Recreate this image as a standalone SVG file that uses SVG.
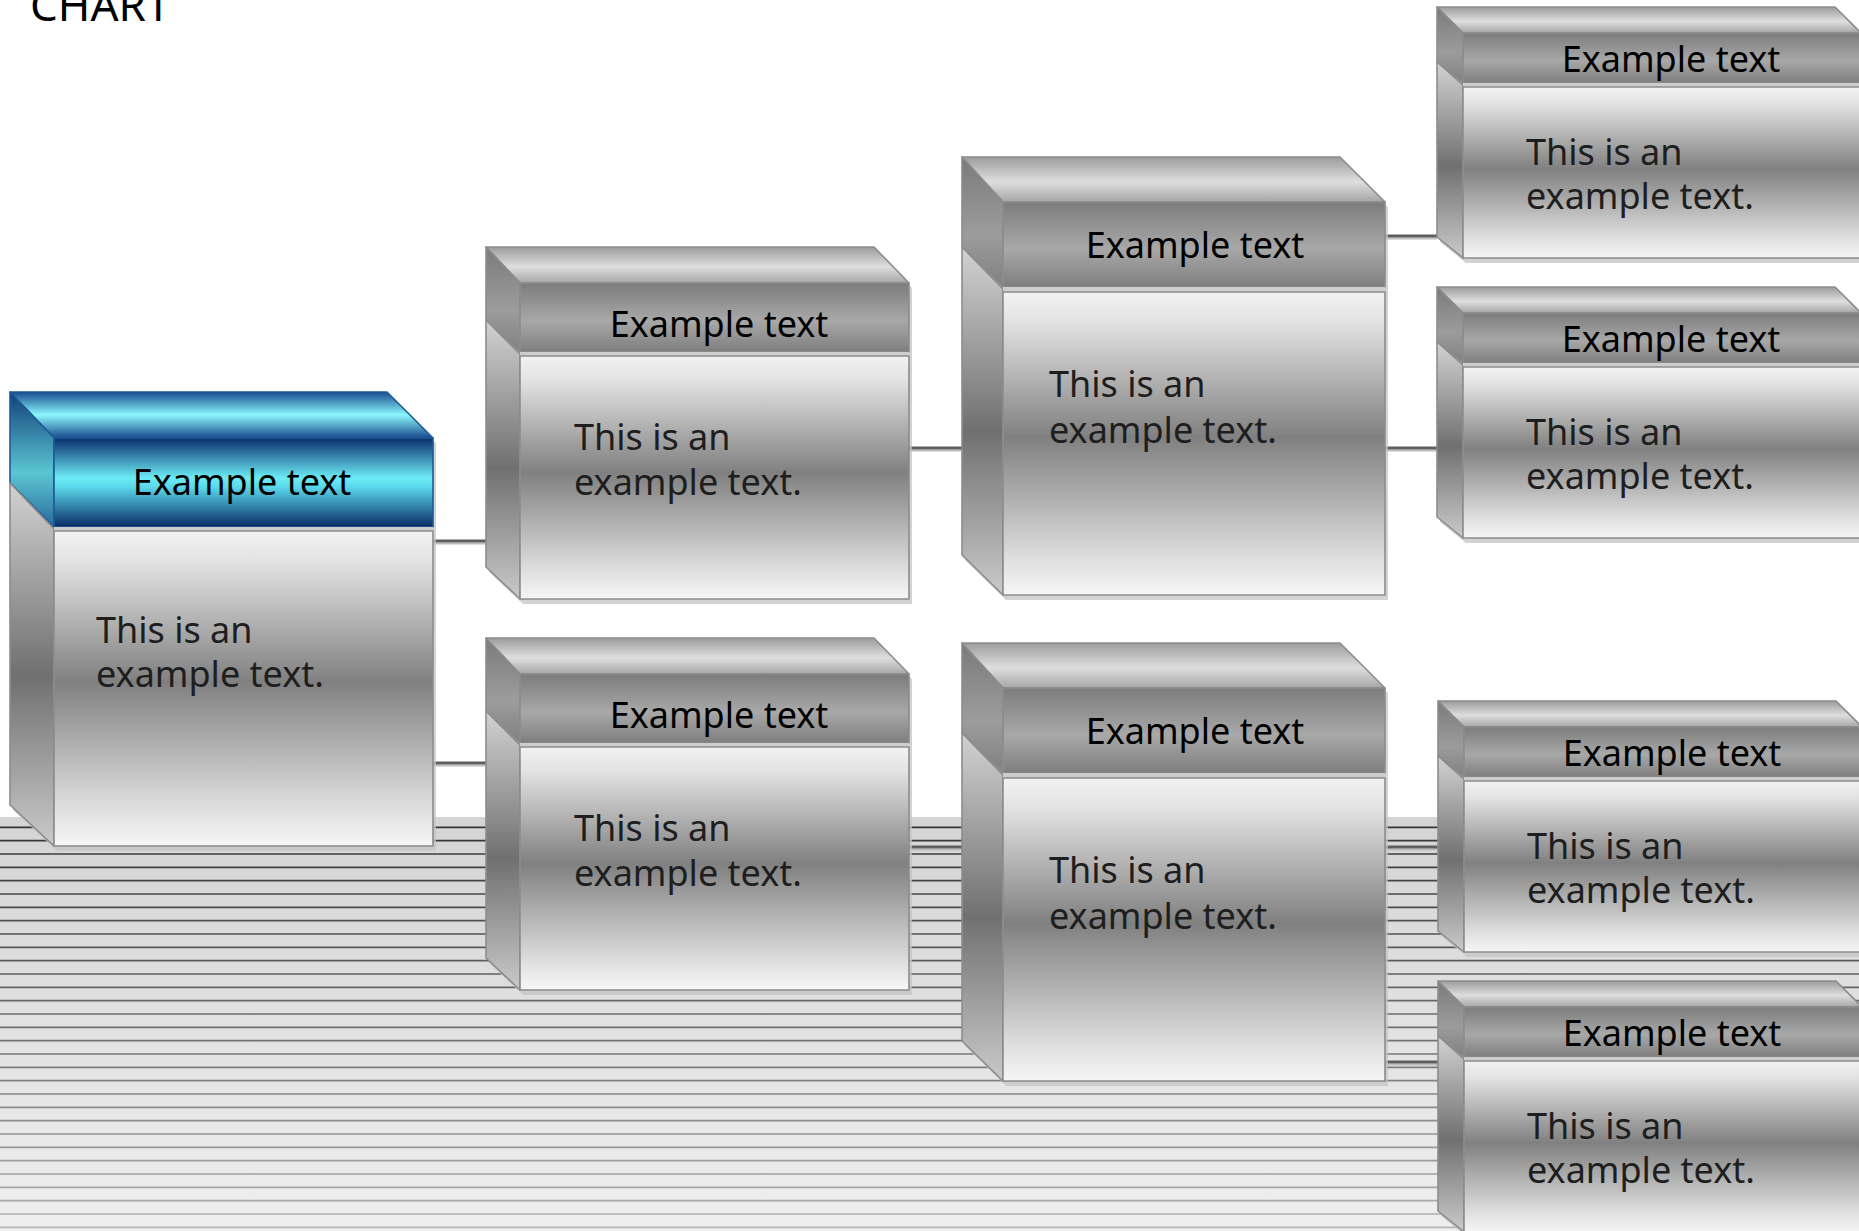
<svg xmlns="http://www.w3.org/2000/svg" xmlns:xlink="http://www.w3.org/1999/xlink" width="1859" height="1231" viewBox="0 0 1859 1231">
<style>
.ht{font-family:"Noto Sans","Open Sans","Liberation Sans",sans-serif;font-size:36px;fill:#000;text-anchor:middle}
.bt{font-family:"Noto Sans","Open Sans","Liberation Sans",sans-serif;font-size:36px;fill:#1e1e1e}
.title{font-family:"Noto Sans","Open Sans","Liberation Sans",sans-serif;font-size:44px;fill:#000}
.edge{stroke:#8c8c8c;stroke-width:1.6;stroke-linejoin:round}
.bedge{stroke:#1d5a96;stroke-width:1.6;stroke-linejoin:round}
.sh{fill:#c4c4c4;opacity:0.75}
.sep{fill:#cdcdcd}
.con{stroke:#5e5e5e;stroke-width:3;fill:none}
.cons{stroke:#bdbdbd;stroke-width:2;fill:none}
</style>
<defs>
<linearGradient id="gHead" x1="0" y1="0" x2="0" y2="1">
<stop offset="0" stop-color="#7c7c7c"/><stop offset="0.55" stop-color="#a8a8a8"/><stop offset="1" stop-color="#7e7e7e"/>
</linearGradient>
<linearGradient id="gTop" x1="0" y1="0" x2="0" y2="1">
<stop offset="0" stop-color="#9c9c9c"/><stop offset="0.55" stop-color="#dedede"/><stop offset="1" stop-color="#a6a6a6"/>
</linearGradient>
<linearGradient id="gBody" x1="0" y1="0" x2="0" y2="1">
<stop offset="0" stop-color="#f2f2f2"/><stop offset="0.1" stop-color="#e2e2e2"/><stop offset="0.48" stop-color="#808080"/><stop offset="0.88" stop-color="#dedede"/><stop offset="1" stop-color="#f6f6f6"/>
</linearGradient>
<linearGradient id="gSide" x1="0" y1="0" x2="0" y2="1">
<stop offset="0" stop-color="#d2d2d2"/><stop offset="0.53" stop-color="#707070"/><stop offset="1" stop-color="#cacaca"/>
</linearGradient>
<linearGradient id="gSideHead" x1="0" y1="0" x2="0" y2="1">
<stop offset="0" stop-color="#7a7a7a"/><stop offset="0.6" stop-color="#9c9c9c"/><stop offset="1" stop-color="#808080"/>
</linearGradient>
<linearGradient id="bHead" x1="0" y1="0" x2="0" y2="1">
<stop offset="0" stop-color="#0b2d6c"/><stop offset="0.45" stop-color="#6cecf6"/><stop offset="0.55" stop-color="#5ad8ea"/><stop offset="1" stop-color="#0a2a66"/>
</linearGradient>
<linearGradient id="bTop" x1="0" y1="0" x2="0" y2="1">
<stop offset="0" stop-color="#1a4c90"/><stop offset="0.5" stop-color="#8af7fb"/><stop offset="1" stop-color="#1a4a8e"/>
</linearGradient>
<linearGradient id="bSideHead" x1="0" y1="0" x2="0" y2="1">
<stop offset="0" stop-color="#123f7a"/><stop offset="0.6" stop-color="#5ac6d2"/><stop offset="1" stop-color="#2a6a9c"/>
</linearGradient>
<linearGradient id="floor" x1="0" y1="0" x2="0" y2="1">
<stop offset="0" stop-color="#d4d4d4"/><stop offset="1" stop-color="#efefef"/>
</linearGradient>
<linearGradient id="floorLine" gradientUnits="userSpaceOnUse" x1="0" y1="820" x2="0" y2="1231">
<stop offset="0" stop-color="#333333"/><stop offset="0.5" stop-color="#6e6e6e"/><stop offset="1" stop-color="#b4b4b4"/>
</linearGradient>

<g id="boxA">
<polygon class="sh" points="3,5 380,5 426,51 426,459 47,459 3,418"/>
<polygon fill="url(#bTop)" class="bedge" points="0,0 377,0 423,46 44,46"/>
<polygon fill="url(#bSideHead)" class="bedge" points="0,0 44,46 44,135 0,91"/>
<polygon fill="url(#gSide)" class="edge" points="0,91 44,137 44,454 0,413"/>
<rect x="44" y="46" width="379" height="89" fill="url(#bHead)" class="bedge"/>
<rect x="44" y="135" width="379" height="4" class="sep"/>
<rect x="44" y="139" width="379" height="315" fill="url(#gBody)" class="edge"/>
</g>
<g id="boxB">
<polygon class="sh" points="3,5 391,5 426,41 426,357 37,357 3,325"/>
<polygon fill="url(#gTop)" class="edge" points="0,0 388,0 423,36 34,36"/>
<polygon fill="url(#gSideHead)" class="edge" points="0,0 34,36 34,105 0,73"/>
<polygon fill="url(#gSide)" class="edge" points="0,73 34,107 34,352 0,320"/>
<rect x="34" y="36" width="389" height="69" fill="url(#gHead)" class="edge"/>
<rect x="34" y="105" width="389" height="4" class="sep"/>
<rect x="34" y="109" width="389" height="243" fill="url(#gBody)" class="edge"/>
</g>
<g id="boxC">
<polygon class="sh" points="3,5 381,5 426,50 426,443 44,443 3,403"/>
<polygon fill="url(#gTop)" class="edge" points="0,0 378,0 423,45 41,45"/>
<polygon fill="url(#gSideHead)" class="edge" points="0,0 41,45 41,130 0,90"/>
<polygon fill="url(#gSide)" class="edge" points="0,90 41,132 41,438 0,398"/>
<rect x="41" y="45" width="382" height="85" fill="url(#gHead)" class="edge"/>
<rect x="41" y="130" width="382" height="5" class="sep"/>
<rect x="41" y="135" width="382" height="303" fill="url(#gBody)" class="edge"/>
</g>
<g id="boxD">
<polygon class="sh" points="3,5 401,5 427,31 427,256 29,256 3,235"/>
<polygon fill="url(#gTop)" class="edge" points="0,0 398,0 424,26 26,26"/>
<polygon fill="url(#gSideHead)" class="edge" points="0,0 26,26 26,76 0,55"/>
<polygon fill="url(#gSide)" class="edge" points="0,55 26,78 26,251 0,230"/>
<rect x="26" y="26" width="398" height="50" fill="url(#gHead)" class="edge"/>
<rect x="26" y="76" width="398" height="4" class="sep"/>
<rect x="26" y="80" width="398" height="171" fill="url(#gBody)" class="edge"/>
</g>
</defs>

<rect x="0" y="0" width="1859" height="1231" fill="#ffffff"/>

<g id="floor-stripes">
<rect x="0" y="817" width="1859" height="414" fill="url(#floor)"/>
<path stroke="url(#floorLine)" stroke-width="1.7" fill="none" d="M0 827.3H1859M0 840.6H1859M0 854H1859M0 867.3H1859M0 880.6H1859M0 894H1859M0 907.3H1859M0 920.6H1859M0 934H1859M0 947.3H1859M0 960.6H1859M0 974H1859M0 987.3H1859M0 1000.6H1859M0 1014H1859M0 1027.3H1859M0 1040.6H1859M0 1054H1859M0 1067.3H1859M0 1080.6H1859M0 1094H1859M0 1107.3H1859M0 1120.6H1859M0 1134H1859M0 1147.3H1859M0 1160.6H1859M0 1174H1859M0 1187.3H1859M0 1200.6H1859M0 1214H1859M0 1227.3H1859"/>
</g>

<text class="title" x="30" y="21">CHART</text>

<g id="connectors">
<path class="cons" d="M433 543.5H486M433 765.5H486M909 450.5H962M909 849.5H962M1385 238.5H1437M1385 450.5H1437M1385 849.5H1438M1385 1064.5H1438"/>
<path class="con" d="M433 541H486M433 763H486M909 448H962M909 847H962M1385 236H1437M1385 448H1437M1385 847H1438M1385 1062H1438"/>
</g>

<g id="node-root" transform="translate(10,392)">
<use href="#boxA"/>
<text class="ht" x="232" y="103">Example text</text>
<text class="bt" x="86" y="251">This is an</text>
<text class="bt" x="86" y="295">example text.</text>
</g>

<g id="node-b1" transform="translate(486,247)">
<use href="#boxB"/>
<text class="ht" x="233" y="90">Example text</text>
<text class="bt" x="88" y="203">This is an</text>
<text class="bt" x="88" y="248">example text.</text>
</g>

<g id="node-b2" transform="translate(486,638)">
<use href="#boxB"/>
<text class="ht" x="233" y="90">Example text</text>
<text class="bt" x="88" y="203">This is an</text>
<text class="bt" x="88" y="248">example text.</text>
</g>

<g id="node-c1" transform="translate(962,157)">
<use href="#boxC"/>
<text class="ht" x="233" y="101">Example text</text>
<text class="bt" x="87" y="240">This is an</text>
<text class="bt" x="87" y="286">example text.</text>
</g>

<g id="node-c2" transform="translate(962,643)">
<use href="#boxC"/>
<text class="ht" x="233" y="101">Example text</text>
<text class="bt" x="87" y="240">This is an</text>
<text class="bt" x="87" y="286">example text.</text>
</g>

<g id="node-d1" transform="translate(1437,7)">
<use href="#boxD"/>
<text class="ht" x="234" y="65">Example text</text>
<text class="bt" x="89" y="158">This is an</text>
<text class="bt" x="89" y="202">example text.</text>
</g>

<g id="node-d2" transform="translate(1437,287)">
<use href="#boxD"/>
<text class="ht" x="234" y="65">Example text</text>
<text class="bt" x="89" y="158">This is an</text>
<text class="bt" x="89" y="202">example text.</text>
</g>

<g id="node-d3" transform="translate(1438,701)">
<use href="#boxD"/>
<text class="ht" x="234" y="65">Example text</text>
<text class="bt" x="89" y="158">This is an</text>
<text class="bt" x="89" y="202">example text.</text>
</g>

<g id="node-d4" transform="translate(1438,981)">
<use href="#boxD"/>
<text class="ht" x="234" y="65">Example text</text>
<text class="bt" x="89" y="158">This is an</text>
<text class="bt" x="89" y="202">example text.</text>
</g>
</svg>
